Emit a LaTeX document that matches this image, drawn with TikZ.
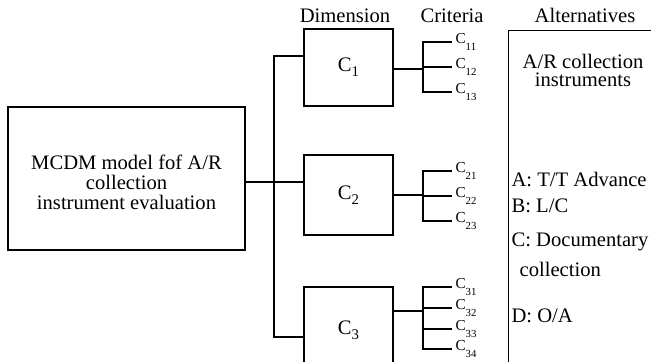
\documentclass[tikz,border=0pt]{standalone}
\usepackage{fontspec}
\setmainfont{Liberation Serif}
\newcommand\Csb[1]{C\raisebox{-3.3pt}{\fontsize{5.4}{5}\selectfont #1}}
\newcommand\Cdim[1]{C\raisebox{-2.6pt}{\fontsize{7.4}{7}\selectfont #1}}
\begin{document}
\begin{tikzpicture}[x=0.5pt,y=-0.5pt,line width=0.6pt,
  box/.style={draw,inner sep=0pt,align=center,font=\fontsize{10.3}{10}\selectfont},
  hdr/.style={anchor=base,inner sep=0pt,font=\fontsize{10.3}{10}\selectfont},
  crit/.style={anchor=west,inner sep=1.5pt,font=\fontsize{7.6}{7}\selectfont},
  alt/.style={anchor=base west,inner sep=0pt,font=\fontsize{10.3}{10}\selectfont}]
\clip (0,0) rectangle (651,362);
% main box
\node[box,minimum width=118.5pt,minimum height=71.5pt] (main) at (126.5,178.5) {};
\node[align=center,inner sep=0pt,font=\fontsize{10.3}{10}\selectfont] (mtext) at (126.5,182)
  {MCDM model fof A/R\\collection\\instrument evaluation};
% dimension boxes
\node[box,minimum width=44.5pt,minimum height=38.5pt] (c1) at (348.5,67.5) {\raisebox{-2pt}{\Cdim{1}}};
\node[box,minimum width=44.5pt,minimum height=40pt] (c2) at (348.5,195) {\raisebox{-4pt}{\Cdim{2}}};
\node[box,minimum width=44.5pt,minimum height=43pt] (c3) at (348.5,330) {\raisebox{2pt}{\Cdim{3}}};
% alternatives box
\node[draw,anchor=north west,minimum width=80pt,minimum height=180pt,inner sep=0pt] (altbox) at (508,30) {};
% headers
\node[hdr] (hd) at (345,23) {Dimension};
\node[hdr] (hc) at (452,23) {Criteria};
\node[hdr] (ha) at (585,23) {Alternatives};
% trunk
\coordinate (t1) at (274,56);
\coordinate (t2) at (274,182);
\coordinate (t3) at (274,337);
\draw (main.east |- t2) -- (c2.west |- t2);
\draw (c1.west |- t1) -- (t1) -- (t3) -- (c3.west |- t3);
% criteria C1
\coordinate (b1) at (423,69);
\node[crit] (c11) at (452,42) {\Csb{11}};
\node[crit] (c12) at (452,67) {\Csb{12}};
\node[crit] (c13) at (452,92) {\Csb{13}};
\draw (c1.east |- b1) -- (b1);
\draw (c11.west) -- (c11.west -| b1) -- (c13.west -| b1) -- (c13.west);
\draw (c12.west -| b1) -- (c12.west);
% criteria C2
\coordinate (b2) at (423,195);
\node[crit] (c21) at (452,171) {\Csb{21}};
\node[crit] (c22) at (452,196) {\Csb{22}};
\node[crit] (c23) at (452,221) {\Csb{23}};
\draw (c2.east |- b2) -- (b2);
\draw (c21.west) -- (c21.west -| b2) -- (c23.west -| b2) -- (c23.west);
\draw (c22.west -| b2) -- (c22.west);
% criteria C3
\coordinate (b3) at (423,311);
\node[crit] (c31) at (452,287) {\Csb{31}};
\node[crit] (c32) at (452,308) {\Csb{32}};
\node[crit] (c33) at (452,329) {\Csb{33}};
\node[crit] (c34) at (452,349) {\Csb{34}};
\draw (c3.east |- b3) -- (b3);
\draw (c31.west) -- (c31.west -| b3) -- (c34.west -| b3) -- (c34.west);
\draw (c32.west -| b3) -- (c32.west);
\draw (c33.west -| b3) -- (c33.west);
% alternatives
\node[align=center,inner sep=0pt,font=\fontsize{10.3}{9}\selectfont] (ar) at (583,70) {A/R collection\\instruments};
\node[alt] (aa) at (511,187) {A: T/T Advance};
\node[alt] (ab) at (511,213) {B: L/C};
\node[alt] (ac) at (511,247) {C: Documentary};
\node[alt] (ac2) at (519,277) {collection};
\node[alt] (ad) at (511,322) {D: O/A};
\end{tikzpicture}
\end{document}
